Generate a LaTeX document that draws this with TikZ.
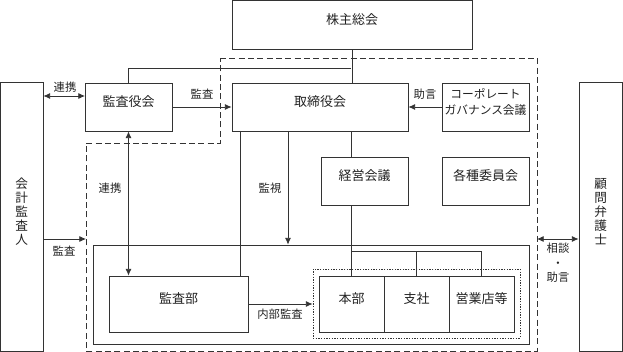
\documentclass[tikz,border=0pt]{standalone}
\usepackage{fontspec}
\setmainfont{Noto Sans CJK JP}
\usetikzlibrary{arrows.meta,calc,fit}
\definecolor{lc}{HTML}{333333}
\definecolor{tc}{HTML}{222222}
\begin{document}
\begin{tikzpicture}[x=0.75pt,y=-0.75pt,
  box/.style={draw=lc, line width=0.6pt, inner sep=0pt, align=center, text=tc, font=\fontsize{9.75}{12}\selectfont},
  vbox/.style={box, font=\fontsize{9.5}{10.5}\selectfont},
  cgbox/.style={box, font=\fontsize{8.8}{11.5}\selectfont},
  lbl/.style={inner sep=0pt, text=tc, align=center, font=\fontsize{8.5}{10}\selectfont},
  conn/.style={draw=lc, line width=0.6pt},
  arr/.style={conn, -{Latex[length=5pt,width=4.5pt]}},
  darr/.style={conn, {Latex[length=5pt,width=4.5pt]}-{Latex[length=5pt,width=4.5pt]}},
  dashline/.style={draw=lc, line width=0.6pt, dash pattern=on 4.5pt off 2.5pt},
  dotline/.style={draw=lc, line width=0.6pt, dash pattern=on 1pt off 1pt}]
\useasboundingbox (0,0) rectangle (623,352);
% dashed region
\draw[dashline] (220,58) -- (537,58) -- (537,351) -- (86,351) -- (86,143) -- (220,143) -- cycle;
% boxes
\node[box, fit={(232,0.5) (472,49)}] (kabu) {株主総会};
\node[box, fit={(85,83) (172,131)}] (kansayaku) {監査役会};
\node[box, fit={(232,83) (408,131)}] (tori) {取締役会};
\node[cgbox, fit={(442,83) (529,131)}] (cg) {コーポレート\\ガバナンス会議};
\node[vbox, fit={(0.5,82) (43,351.5)}] (kaikei) {会\\計\\監\\査\\人};
\node[vbox, fit={(579,82) (622.5,351.5)}] (komon) {顧\\問\\弁\\護\\士};
\node[box, fit={(321,157) (408,205)}] (keiei) {経営会議};
\node[box, fit={(442,157) (529,205)}] (kakushu) {各種委員会};
\node[box, fit={(93,245) (529,344)}] (big) {};
\node[box, fit={(109,276) (248,332)}] (kansabu) {監査部};
\node[dotline, inner sep=0pt, fit={(313,269) (520,338)}] (dot) {};
\node[box, fit={(319,276) (384,332)}] (honbu) {本部};
\node[box, fit={(384,276) (449,332)}] (shisha) {支社};
\node[box, fit={(449,276) (514,332)}] (eigyo) {営業店等};
% coordinates
\coordinate (j) at (351,68);
\coordinate (r1) at (85,96);
\coordinate (dl) at (86,239);
\coordinate (dr) at (537,239);
\coordinate (t1) at (240,131);
\coordinate (t2) at (288,131);
\coordinate (h) at (351.5,251);
% connectors
\draw[conn] (kansayaku.north) |- (j);
\draw[conn] (kabu.south) -- (kabu.south |- tori.north);
\draw[arr] (kansayaku.east) -- (tori.west);
\draw[arr] (cg.west) -- (tori.east);
\draw[darr] (kaikei.east |- r1) -- (r1);
\draw[darr] (kansayaku.south) -- (kansayaku.south |- kansabu.north);
\draw[conn] (t1) -- (t1 |- kansabu.north);
\draw[arr] (t2) -- (t2 |- big.north);
\draw[conn] (h |- tori.south) -- (h |- keiei.north);
\draw[conn] (h |- keiei.south) -- (honbu.north);
\draw[conn] (h) -| (shisha.north);
\draw[conn] (h) -| (eigyo.north);
\draw[arr] (kaikei.east |- dl) -- (dl);
\draw[darr] (dr) -- (dr -| komon.west);
\draw[arr] (kansabu.east) -- (kansabu.east -| dot.west);
% labels
\node[lbl] (l1) at (65,87) {連携};
\node[lbl] (l2) at (202,94) {監査};
\node[lbl] (l3) at (425,94) {助言};
\node[lbl] (l4) at (110,188) {連携};
\node[lbl] (l5) at (270,188) {監視};
\node[lbl] (l6) at (64,251) {監査};
\node[lbl] (l7) at (280,314) {内部監査};
\node[lbl, font=\fontsize{8.5}{11}\selectfont] (l8) at (558,263) {相談\\・\\助言};
\end{tikzpicture}
\end{document}
